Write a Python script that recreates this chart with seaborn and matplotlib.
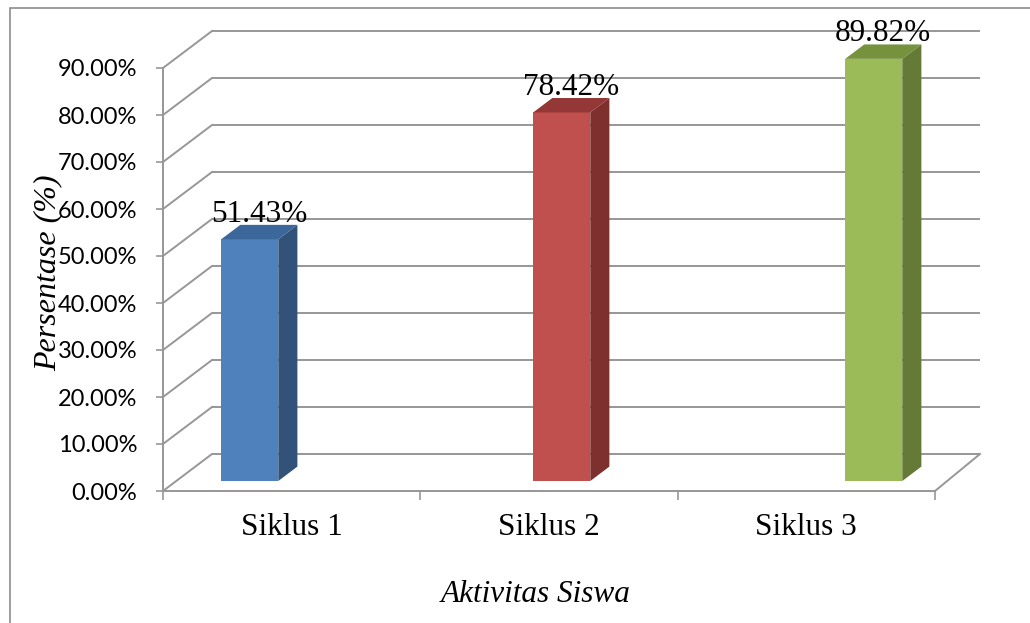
import numpy as np
import pandas as pd
import seaborn as sns
import matplotlib.pyplot as plt
from matplotlib.patches import Polygon, Rectangle
from matplotlib.ticker import PercentFormatter, FixedLocator

# data
siklus = ["Siklus 1", "Siklus 2", "Siklus 3"]
persen = [0.5143, 0.7842, 0.8982]
warna_depan = ["#4F81BD", "#C0504D", "#9BBB59"]
warna_samping = ["#32527A", "#7D302E", "#647A36"]
warna_atas = ["#3C679A", "#933836", "#76923C"]
y_ticks = [0.0, 0.1, 0.2, 0.3, 0.4, 0.5, 0.6, 0.7, 0.8, 0.9]

W, H = 1030, 623
GRID = "#979797"
SERIF = "Liberation Serif"


def main():
    fig = plt.figure(figsize=(W / 100, H / 100), dpi=100)
    fig.patch.set_facecolor("white")

    # front plane of the pseudo-3D box (pixels)
    left, right, bottom, top = 163, 935, 491, 68
    ax = fig.add_axes([left / W, (H - bottom) / H, (right - left) / W, (bottom - top) / H])
    ax.set_facecolor("none")

    df = pd.DataFrame({"siklus": siklus, "persen": persen})
    sns.barplot(data=df, x="siklus", y="persen", hue="siklus", palette=warna_depan,
                saturation=1, width=0.183, legend=False, edgecolor="none", ax=ax)

    xmin, xmax = -0.2356, 2.2388
    ax.set_xlim(xmin, xmax)
    ax.set_ylim(0, 0.9)

    # depth of the box converted to data units
    xpp = (xmax - xmin) / (right - left)
    ypp = 0.9 / (bottom - top)
    ddx, ddy = 49 * xpp, 37 * ypp
    f0, f1 = 0.27, 0.66

    # back wall gridlines + diagonals on the left wall
    for t in y_ticks:
        ax.plot([xmin + ddx, xmax + ddx - 4 * xpp], [t + ddy, t + ddy], color=GRID, lw=1.4,
                zorder=0.5, clip_on=False, solid_capstyle="butt")
        ax.plot([xmin, xmin + ddx], [t, t + ddy], color=GRID, lw=1.4,
                zorder=0.5, clip_on=False)
    ax.plot([xmax, xmax + ddx - 4 * xpp], [0, ddy], color=GRID, lw=1.4, zorder=0.5, clip_on=False)

    # push bars into the box and add side / top faces
    bars = sorted(ax.patches, key=lambda p: p.get_x())
    bdx, bdy = (f1 - f0) * ddx, (f1 - f0) * ddy
    for p, v, cs, ct in zip(bars, persen, warna_samping, warna_atas):
        x0 = p.get_x() + f0 * ddx
        x1 = x0 + p.get_width()
        y0 = f0 * ddy
        h = y0 + v
        p.set_x(x0)
        p.set_y(y0)
        p.set_clip_on(False)
        ax.add_patch(Polygon([(x1, y0), (x1 + bdx, y0 + bdy), (x1 + bdx, h + bdy), (x1, h)],
                             closed=True, facecolor=cs, edgecolor="none", clip_on=False, zorder=1))
        ax.add_patch(Polygon([(x0, h), (x1, h), (x1 + bdx, h + bdy), (x0 + bdx, h + bdy)],
                             closed=True, facecolor=ct, edgecolor="none", clip_on=False, zorder=1))
        xc = p.get_x() - f0 * ddx + (f0 + f1) / 2 * ddx + p.get_width() / 2
        ax.text(xc, v + f1 * ddy + 3 * ypp, f"{v * 100:.2f}%", ha="center", va="baseline",
                fontsize=22.5, family=SERIF, color="black", zorder=3, clip_on=False)

    # axes styling
    for s in ["top", "right"]:
        ax.spines[s].set_visible(False)
    for s in ["left", "bottom"]:
        ax.spines[s].set_color(GRID)
        ax.spines[s].set_linewidth(1.4)

    ax.yaxis.set_major_locator(FixedLocator(y_ticks))
    ax.yaxis.set_major_formatter(PercentFormatter(1, decimals=2))
    ax.tick_params(axis="y", length=5, width=1.2, color=GRID, pad=13.5,
                   labelsize=17, labelcolor="black")
    for lab in ax.get_yticklabels():
        lab.set_family("Lato")

    span = (xmax - xmin) / 3
    ax.set_xticks([xmin + (i + 0.5) * span for i in range(3)], siklus)
    ax.set_xticks([xmin + i * span for i in range(4)], minor=True)
    ax.tick_params(axis="x", which="major", length=0, pad=16, labelsize=22.5)
    ax.tick_params(axis="x", which="minor", length=6.5, width=1.2, color=GRID)
    for lab in ax.get_xticklabels():
        lab.set_family(SERIF)

    ax.set_xlabel("")
    ax.set_ylabel("")
    fig.text(48 / W, 1 - 273 / H, "Persentase (%)", rotation=90, ha="center", va="center",
             fontsize=23, family=SERIF, style="italic")
    fig.text(536 / W, 1 - 595 / H, "Aktivitas Siswa", ha="center", va="center",
             fontsize=22.5, family=SERIF, style="italic")

    # outer chart border
    fig.patches.append(Rectangle((10 / W, -0.1), 1.2, 1.1 - 8 / H, transform=fig.transFigure,
                                 facecolor="none", edgecolor="#8c8c8c", lw=1.2))

    fig.savefig("out.png", dpi=100)
    plt.close(fig)


if __name__ == "__main__":
    main()
